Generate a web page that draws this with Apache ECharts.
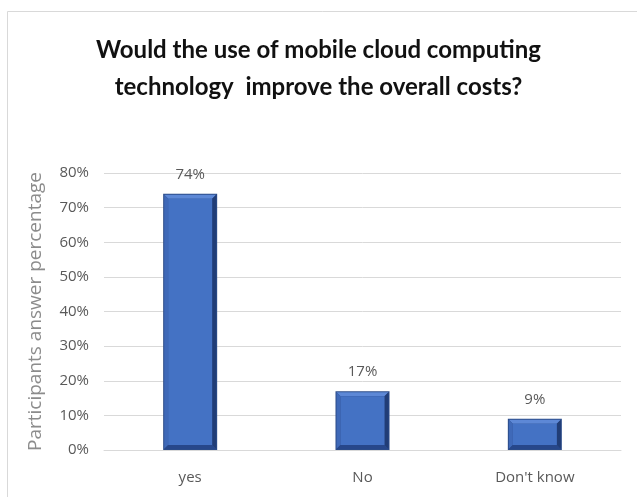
<!DOCTYPE html>
<html>
<head>
<meta charset="utf-8">
<script src="https://cdn.jsdelivr.net/npm/echarts@6/dist/echarts.min.js"></script>
<style>
  html, body { margin: 0; padding: 0; background: #fff; }
  #chart { width: 637px; height: 497px; }
</style>
</head>
<body>
<div id="chart"></div>
<script>
// Survey answers (percent of participants)
const categories = ["yes", "No", "Don't know"];
const values = [74, 17, 9];
const yTicks = [0, 10, 20, 30, 40, 50, 60, 70, 80];

const BAR_W = 54;
const BEVEL = 4;

// Bevelled column: dark outline, light top edge, dark right/bottom edges
function renderBevelBar(params, api) {
  const top = api.coord([api.value(0), api.value(1)]);
  const base = api.coord([api.value(0), 0]);
  const l = top[0] - BAR_W / 2, r = top[0] + BAR_W / 2;
  const t = top[1], b = base[1];
  const il = l + 1, ir = r - 1, it = t + 1, ib = b - 1, e = BEVEL;
  const poly = (pts, fill) => ({ type: 'polygon', shape: { points: pts }, style: { fill: fill } });
  return {
    type: 'group',
    children: [
      { type: 'rect', shape: { x: l, y: t, width: r - l, height: b - t }, style: { fill: '#2b4b88' } },
      poly([[il, it], [ir, it], [ir - e, it + e], [il + e, it + e]], '#5d88d6'),
      poly([[il, it], [il + e, it + e], [il + e, ib - e], [il, ib]], '#3f69b8'),
      poly([[ir, it], [ir, ib], [ir - e, ib - e], [ir - e, it + e]], '#213d76'),
      poly([[il, ib], [ir, ib], [ir - e, ib - e], [il + e, ib - e]], '#27478a'),
      { type: 'rect', shape: { x: il + e, y: it + e, width: ir - il - 2 * e, height: ib - it - 2 * e }, style: { fill: '#4472c4' } },
      {
        type: 'text',
        style: {
          x: top[0], y: t - 12, text: api.value(1) + '%',
          align: 'center', verticalAlign: 'bottom',
          fill: '#595959', font: '15px "Open Sans"'
        }
      }
    ]
  };
}

const chart = echarts.init(document.getElementById('chart'), null, { renderer: 'canvas' });

chart.setOption({
  backgroundColor: '#ffffff',
  animation: false,
  title: {
    text: 'Would the use of mobile cloud computing\ntechnology  improve the overall costs?',
    left: 'center',
    top: 27,
    textStyle: {
      fontFamily: 'Lato',
      fontWeight: 'bold',
      fontSize: 24,
      lineHeight: 37,
      color: '#111111'
    }
  },
  graphic: [
    { type: 'line', shape: { x1: 7.5, y1: 11.5, x2: 637, y2: 11.5 }, style: { stroke: '#d9d9d9', lineWidth: 1 } },
    { type: 'line', shape: { x1: 7.5, y1: 11.5, x2: 7.5, y2: 497 }, style: { stroke: '#d9d9d9', lineWidth: 1 } }
  ],
  grid: { left: 104, right: 16, top: 173, bottom: 47 },
  xAxis: {
    type: 'category',
    data: categories,
    axisLine: { lineStyle: { color: '#d9d9d9' } },
    axisTick: { show: false },
    axisLabel: { color: '#595959', fontSize: 15, fontFamily: 'Open Sans', margin: 20 }
  },
  yAxis: {
    type: 'value',
    min: 0,
    max: yTicks[yTicks.length - 1],
    interval: yTicks[1] - yTicks[0],
    name: 'Participants answer percentage',
    nameLocation: 'middle',
    nameGap: 59,
    nameTextStyle: { color: '#8c8c8c', fontSize: 19, fontFamily: 'Open Sans' },
    axisLine: { show: false },
    axisTick: { show: false },
    splitLine: { lineStyle: { color: '#d9d9d9' } },
    axisLabel: {
      color: '#595959', fontSize: 15, fontFamily: 'Open Sans', margin: 15,
      formatter: v => v + '%'
    }
  },
  series: [{
    type: 'custom',
    renderItem: renderBevelBar,
    encode: { x: 0, y: 1 },
    data: categories.map((c, i) => [i, values[i]])
  }]
});
</script>
</body>
</html>
